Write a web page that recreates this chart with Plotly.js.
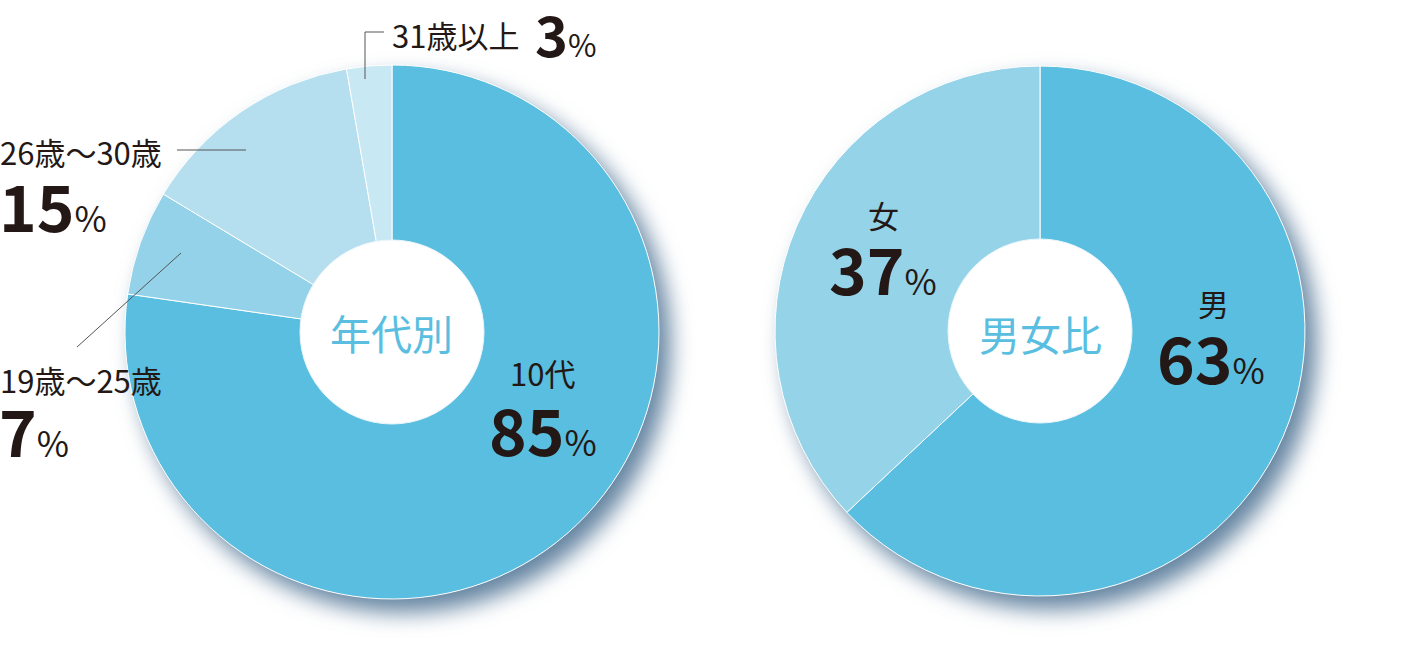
<!DOCTYPE html>
<html>
<head>
<meta charset="utf-8">
<script src="https://cdn.plot.ly/plotly-3.0.1.min.js"></script>
<style>
  html, body { margin: 0; padding: 0; background: #ffffff; }
  #chart { width: 1427px; height: 652px; }
  /* soft drop shadow under both pies */
  .pielayer .trace { filter: drop-shadow(11px 13px 11px rgba(40, 85, 125, 0.72)); }
</style>
</head>
<body>
<div id="chart"></div>
<script>
// Age breakdown
const ageLabels = ['10代', '19歳～25歳', '26歳～30歳', '31歳以上'];
const ageValues = [85, 7, 15, 3];
const ageColors = ['#59bedf', '#93d2e8', '#b5dfef', '#c8e8f4'];

// Gender breakdown
const genderLabels = ['男', '女'];
const genderValues = [63, 37];
const genderColors = ['#59bedf', '#94d3e8'];

const centerTitles = ['年代別', '男女比'];

const W = 1427, H = 652;
const px = x => x / W;
const py = y => 1 - y / H;

const FONT = '"Noto Sans CJK JP", "Noto Sans", sans-serif';
const INK = '#231815';
const BLUE = '#59bedf';

function pieDomain(cx, cy, r) {
  return { x: [px(cx - r), px(cx + r)], y: [py(cy + r), py(cy - r)] };
}

const traces = [
  {
    type: 'pie', labels: ageLabels, values: ageValues,
    marker: { colors: ageColors, line: { color: '#ffffff', width: 1 } },
    sort: false, direction: 'clockwise', rotation: 0,
    textinfo: 'none', hoverinfo: 'label+value',
    domain: pieDomain(392, 332, 267), showlegend: false
  },
  {
    type: 'pie', labels: genderLabels, values: genderValues,
    marker: { colors: genderColors, line: { color: '#ffffff', width: 1 } },
    sort: false, direction: 'clockwise', rotation: 0,
    textinfo: 'none', hoverinfo: 'label+value',
    domain: pieDomain(1040, 331, 265), showlegend: false
  }
];

function hole(cx, cy, r) {
  return {
    type: 'circle', xref: 'paper', yref: 'paper', layer: 'above',
    x0: px(cx - r), x1: px(cx + r), y0: py(cy + r), y1: py(cy - r),
    fillcolor: '#ffffff', line: { color: '#eaf6fb', width: 1 }
  };
}

function seg(x0, y0, x1, y1) {
  return {
    type: 'line', xref: 'paper', yref: 'paper', layer: 'above',
    x0: px(x0), y0: py(y0), x1: px(x1), y1: py(y1),
    line: { color: '#555555', width: 1 }
  };
}

const shapes = [
  hole(392, 332, 92),
  hole(1040, 331, 92),
  seg(365, 79, 365, 32), seg(365, 32, 384, 32),
  seg(177, 150, 246, 150),
  seg(77, 347, 181, 253)
];

function label(text, x, y, anchor) {
  return {
    text: text, xref: 'paper', yref: 'paper', x: px(x), y: py(y),
    xanchor: anchor || 'left', yanchor: 'middle', showarrow: false,
    font: { family: FONT, size: 31, color: INK }
  };
}
function pct(v, x, y, size, anchor) {
  return {
    text: v + '<span style="font-size:' + Math.round(size * 0.55) + 'px;font-weight:400">%</span>',
    xref: 'paper', yref: 'paper', x: px(x), y: py(y),
    xanchor: anchor || 'left', yanchor: 'middle', showarrow: false,
    font: { family: FONT, size: size, color: INK, weight: 700 }
  };
}
function center(text, x, y) {
  return {
    text: text, xref: 'paper', yref: 'paper', x: px(x), y: py(y),
    xanchor: 'center', yanchor: 'middle', showarrow: false,
    font: { family: FONT, size: 41, color: BLUE }
  };
}

const annotations = [
  center(centerTitles[0], 391, 332),
  center(centerTitles[1], 1040, 333),

  label(ageLabels[3], 390, 34),
  pct(ageValues[3], 533, 32, 56),

  label(ageLabels[2], -2, 151),
  pct(ageValues[2], -3, 204, 64),

  label(ageLabels[1], -2, 379),
  pct(ageValues[1], -3, 429, 64),

  label(ageLabels[0], 542, 372, 'center'),
  pct(ageValues[0], 543, 428, 64, 'center'),

  label(genderLabels[1], 883, 214, 'center'),
  pct(genderValues[1], 883, 267, 64, 'center'),

  label(genderLabels[0], 1213, 302, 'center'),
  pct(genderValues[0], 1211, 356, 64, 'center')
];

const layout = {
  width: W, height: H,
  margin: { l: 0, r: 0, t: 0, b: 0 },
  paper_bgcolor: '#ffffff', plot_bgcolor: '#ffffff',
  showlegend: false,
  shapes: shapes,
  annotations: annotations
};

Plotly.newPlot('chart', traces, layout, { displayModeBar: false, staticPlot: true });
</script>
</body>
</html>
